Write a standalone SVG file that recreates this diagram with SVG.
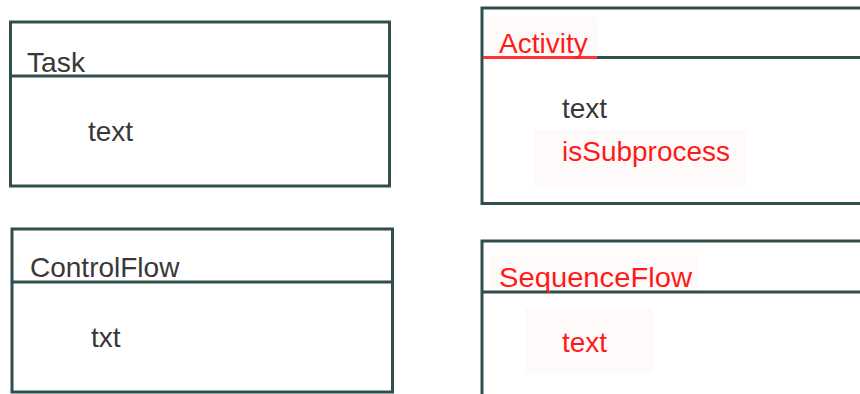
<svg xmlns="http://www.w3.org/2000/svg" width="860" height="394" viewBox="0 0 860 394">
  <style>
    .box { fill: #ffffff; stroke: #2f4f4f; stroke-width: 3; }
    .div { stroke: #2f4f4f; stroke-width: 3; fill: none; }
    .lbl { font-family: "Liberation Sans", Arial, sans-serif; font-size: 28px; fill: #383838; }
    .red { fill: #ff1a1a; }
    .hl { fill: #fffafa; }
  </style>
  <rect width="860" height="394" fill="#ffffff"/>
  <g id="Task">
    <rect class="box" x="10.5" y="22" width="379" height="164"/>
    <line class="div" x1="10.5" y1="76" x2="389.5" y2="76"/>
    <text class="lbl" x="27" y="72" textLength="58" lengthAdjust="spacingAndGlyphs">Task</text>
    <text class="lbl" x="88" y="141">text</text>
  </g>
  <g id="Activity">
    <rect class="box" x="482" y="8" width="400" height="195.5"/>
    <line class="div" x1="482" y1="57.5" x2="882" y2="57.5"/>
    <rect class="hl" x="484" y="17" width="113" height="39"/>
    <line x1="483" y1="57.5" x2="597" y2="57.5" stroke="#ff3333" stroke-width="3"/>
    <text class="lbl red" x="499" y="53">Activity</text>
    <text class="lbl" x="562" y="118">text</text>
    <rect class="hl" x="534" y="130" width="213" height="57"/>
    <text class="lbl red" x="562" y="161">isSubprocess</text>
  </g>
  <g id="ControlFlow">
    <rect class="box" x="12" y="229" width="380.5" height="163"/>
    <line class="div" x1="12" y1="282" x2="392.5" y2="282"/>
    <text class="lbl" x="30" y="277">ControlFlow</text>
    <text class="lbl" x="91" y="347">txt</text>
  </g>
  <g id="SequenceFlow">
    <rect class="box" x="482" y="241" width="400" height="170"/>
    <rect class="hl" x="490" y="255" width="207" height="35.5"/>
    <line class="div" x1="482" y1="292" x2="882" y2="292"/>
    <text class="lbl red" x="499" y="287" textLength="193" lengthAdjust="spacingAndGlyphs">SequenceFlow</text>
    <rect class="hl" x="525" y="308" width="128" height="65"/>
    <text class="lbl red" x="562" y="352">text</text>
  </g>
  <g id="connectors"/>
</svg>
